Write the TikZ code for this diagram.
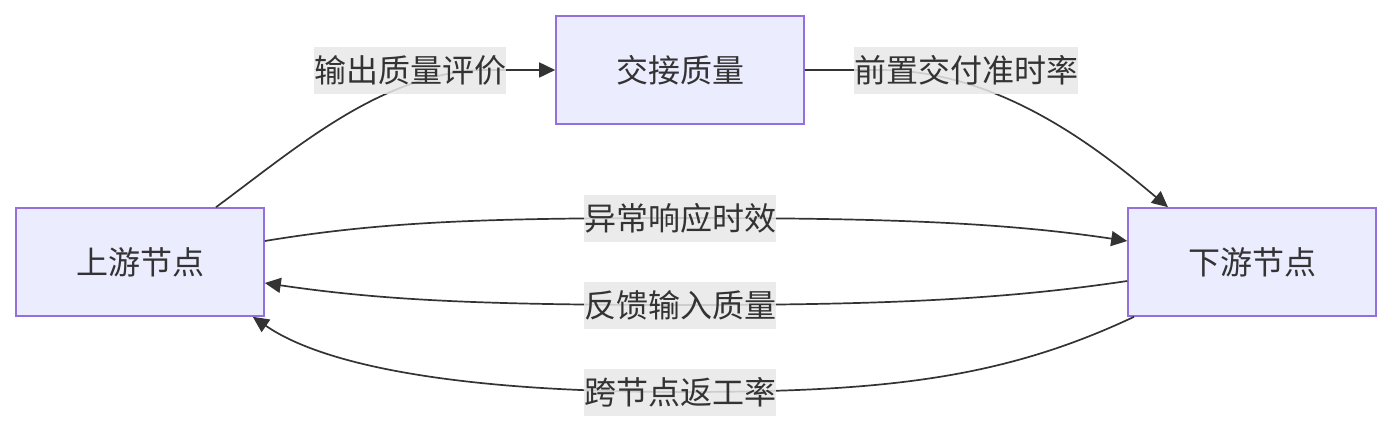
\documentclass[tikz,border=0pt]{standalone}
\usepackage{fontspec}
\setmainfont{Noto Sans CJK SC}
\usetikzlibrary{arrows.meta}
\definecolor{nodefill}{HTML}{ECECFF}
\definecolor{nodeborder}{HTML}{9370DB}
\definecolor{ink}{HTML}{333333}
\definecolor{lblbg}{HTML}{E8E8E8}
\tikzset{
  box/.style={draw=nodeborder, fill=nodefill, line width=1.6pt, minimum width=248pt, minimum height=108pt, inner sep=0pt, text=ink, font=\fontsize{32}{38}\selectfont},
  lbl/.style={fill=lblbg, fill opacity=0.85, text opacity=1, text=ink, inner xsep=0pt, inner ysep=0pt, minimum height=47pt, font=\fontsize{32}{38}\selectfont},
  conn/.style={draw=ink, line width=1.7pt, -{Triangle[length=16pt,width=15pt]}}
}
\begin{document}
\begin{tikzpicture}[x=1pt,y=-1pt]
\useasboundingbox (0,0) rectangle (1392,434);
\node[box] (up) at (140,262) {上游节点};
\node[box] (hq) at (680,70) {交接质量};
\node[box] (dn) at (1252,262) {下游节点};
% connectors
\draw[conn] ([xshift=76pt]up.north) .. controls (300,145) and (380,75) .. (480,70) -- (hq.west);
\draw[conn] (hq.east) -- (880,70) .. controls (1000,70) and (1100,150) .. ([xshift=-84pt]dn.north);
\draw[conn] ([yshift=21pt]up.east) .. controls (380,222) and (480,218) .. (680,218) .. controls (880,218) and (1000,222) .. ([yshift=21pt]dn.east -| dn.west);
\draw[conn] ([yshift=-19pt]dn.west) .. controls (1000,300) and (880,305) .. (680,305) .. controls (480,305) and (380,300) .. ([yshift=-21pt]up.east);
\draw[conn] ([xshift=-118pt]dn.south) .. controls (1000,380) and (880,392) .. (680,392) .. controls (480,392) and (330,370) .. ([xshift=-12pt]up.south east);
% labels
\node[lbl] (l1) at (410,70) {输出质量评价};
\node[lbl] (l2) at (966,70) {前置交付准时率};
\node[lbl] (l3) at (680,218) {异常响应时效};
\node[lbl] (l4) at (680,305) {反馈输入质量};
\node[lbl] (l5) at (680,392) {跨节点返工率};
\end{tikzpicture}
\end{document}
